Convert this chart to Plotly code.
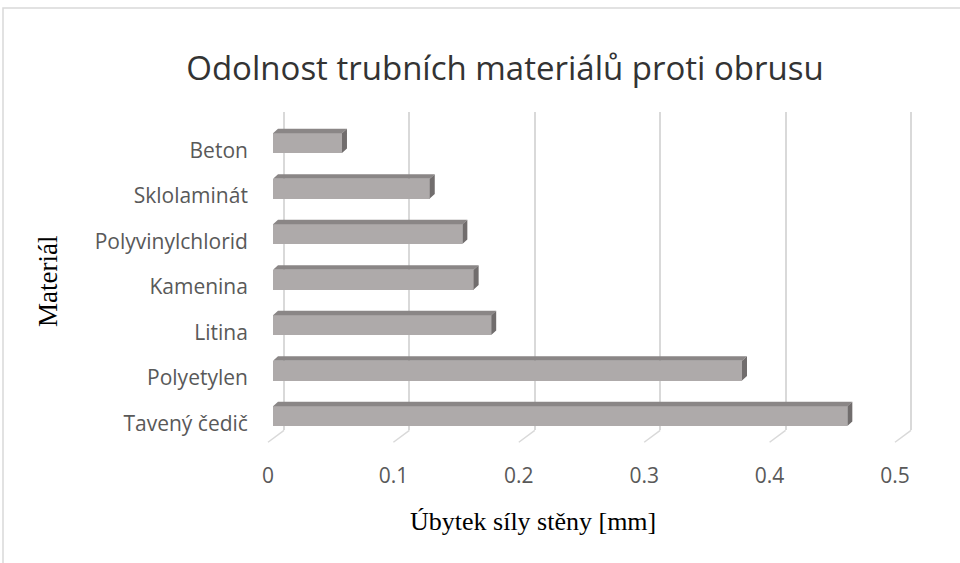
import plotly.graph_objects as go

W, H = 960, 563

materials = ["Beton", "Sklolaminát", "Polyvinylchlorid", "Kamenina", "Litina", "Polyetylen", "Tavený čedič"]
wear_mm = [0.055, 0.125, 0.151, 0.160, 0.174, 0.374, 0.458]
x_ticks = [0, 0.1, 0.2, 0.3, 0.4, 0.5]
x_ticktext = ["0", "0.1", "0.2", "0.3", "0.4", "0.5"]

# fake 3D geometry (excel-like 3D bars)
PX_UNIT = 1254.0          # pixels per 1 mm on x
X0_PX = 284               # back-wall position of x=0
base = -11 / PX_UNIT      # bar front face starts a bit in front of back wall
ddx = 5 / PX_UNIT         # bar depth, x part
ddy = 0.098               # bar depth, y part (category units)
bar_w = 0.435
bar_off = -0.03

FRONT = "#AEAAAA"
TOP = "#8A8686"
SIDE = "#716D6D"
GRID = "#D9D9D9"

xr = [-0.02, 0.52]
xdom = [(X0_PX + xr[0] * PX_UNIT) / W, (X0_PX + xr[1] * PX_UNIT) / W]
ydom = [1 - 435 / H, 1 - 113 / H]

idx = list(range(len(materials)))

fig = go.Figure()

fig.add_trace(go.Bar(
    y=idx, x=wear_mm, base=base, orientation="h",
    width=bar_w, offset=bar_off,
    marker=dict(color=FRONT, line=dict(width=0)),
    hoverinfo="skip", showlegend=False,
))

top_x, top_y, side_x, side_y = [], [], [], []
for c, v in zip(idx, wear_mm):
    yt = c + bar_off
    yb = yt + bar_w
    top_x += [base, base + v, base + v + ddx, base + ddx, base, None]
    top_y += [yt, yt, yt - ddy, yt - ddy, yt, None]
    side_x += [base + v, base + v + ddx, base + v + ddx, base + v, base + v, None]
    side_y += [yt, yt - ddy, yb - ddy, yb, yt, None]

fig.add_trace(go.Scatter(x=top_x, y=top_y, mode="lines", fill="toself",
                         fillcolor=TOP, line=dict(width=0, color=TOP),
                         hoverinfo="skip", showlegend=False))
fig.add_trace(go.Scatter(x=side_x, y=side_y, mode="lines", fill="toself",
                         fillcolor=SIDE, line=dict(width=0, color=SIDE),
                         hoverinfo="skip", showlegend=False))

# floor lines from back wall to front plane
shapes = []
for t in x_ticks:
    shapes.append(dict(type="line", xref="x", yref="paper",
                       x0=t, x1=t - 16 / PX_UNIT, y0=1 - 435 / H, y1=1 - 447 / H,
                       line=dict(color=GRID, width=1.5), layer="below"))
# chart border (cropped at right / bottom)
shapes.append(dict(type="rect", xref="paper", yref="paper",
                   x0=3 / W, x1=1.2, y0=-0.2, y1=1 - 8 / H,
                   line=dict(color="#D9D9D9", width=1.5)))

fig.update_layout(
    width=W, height=H,
    margin=dict(l=0, r=0, t=0, b=0),
    paper_bgcolor="white", plot_bgcolor="white",
    bargap=0,
    shapes=shapes,
    title=dict(text="Odolnost trubních materiálů proti obrusu",
               x=505 / W, xanchor="center", y=1 - 68 / H, yanchor="middle",
               font=dict(family="Open Sans", size=33, color="#333333")),
    annotations=[
        dict(text="Úbytek síly stěny [mm]", xref="paper", yref="paper",
             x=533 / W, y=1 - 527 / H, xanchor="center", yanchor="middle",
             showarrow=False,
             font=dict(family="Liberation Serif", size=26, color="black")),
        dict(text="Materiál", xref="paper", yref="paper", textangle=-90,
             x=48 / W, y=1 - 285 / H, xanchor="center", yanchor="middle",
             showarrow=False,
             font=dict(family="Liberation Serif", size=27, color="black")),
    ],
    xaxis=dict(range=xr, domain=xdom, tickvals=x_ticks, ticktext=x_ticktext,
               showgrid=True, gridcolor=GRID, gridwidth=1.5,
               zeroline=False, showline=False, ticks="",
               ticklabelshift=-16, ticklabelstandoff=31,
               tickfont=dict(family="Open Sans", size=21, color="#595959")),
    yaxis=dict(range=[6.5, -0.5], domain=ydom, tickvals=idx, ticktext=materials,
               showgrid=False, zeroline=False, showline=False, ticks="",
               ticklabelshift=-16, ticklabelstandoff=10,
               tickfont=dict(family="Open Sans", size=21, color="#595959")),
)

fig.write_html("out.html", config={"displayModeBar": False},
               post_script="document.body.style.margin='0';")
